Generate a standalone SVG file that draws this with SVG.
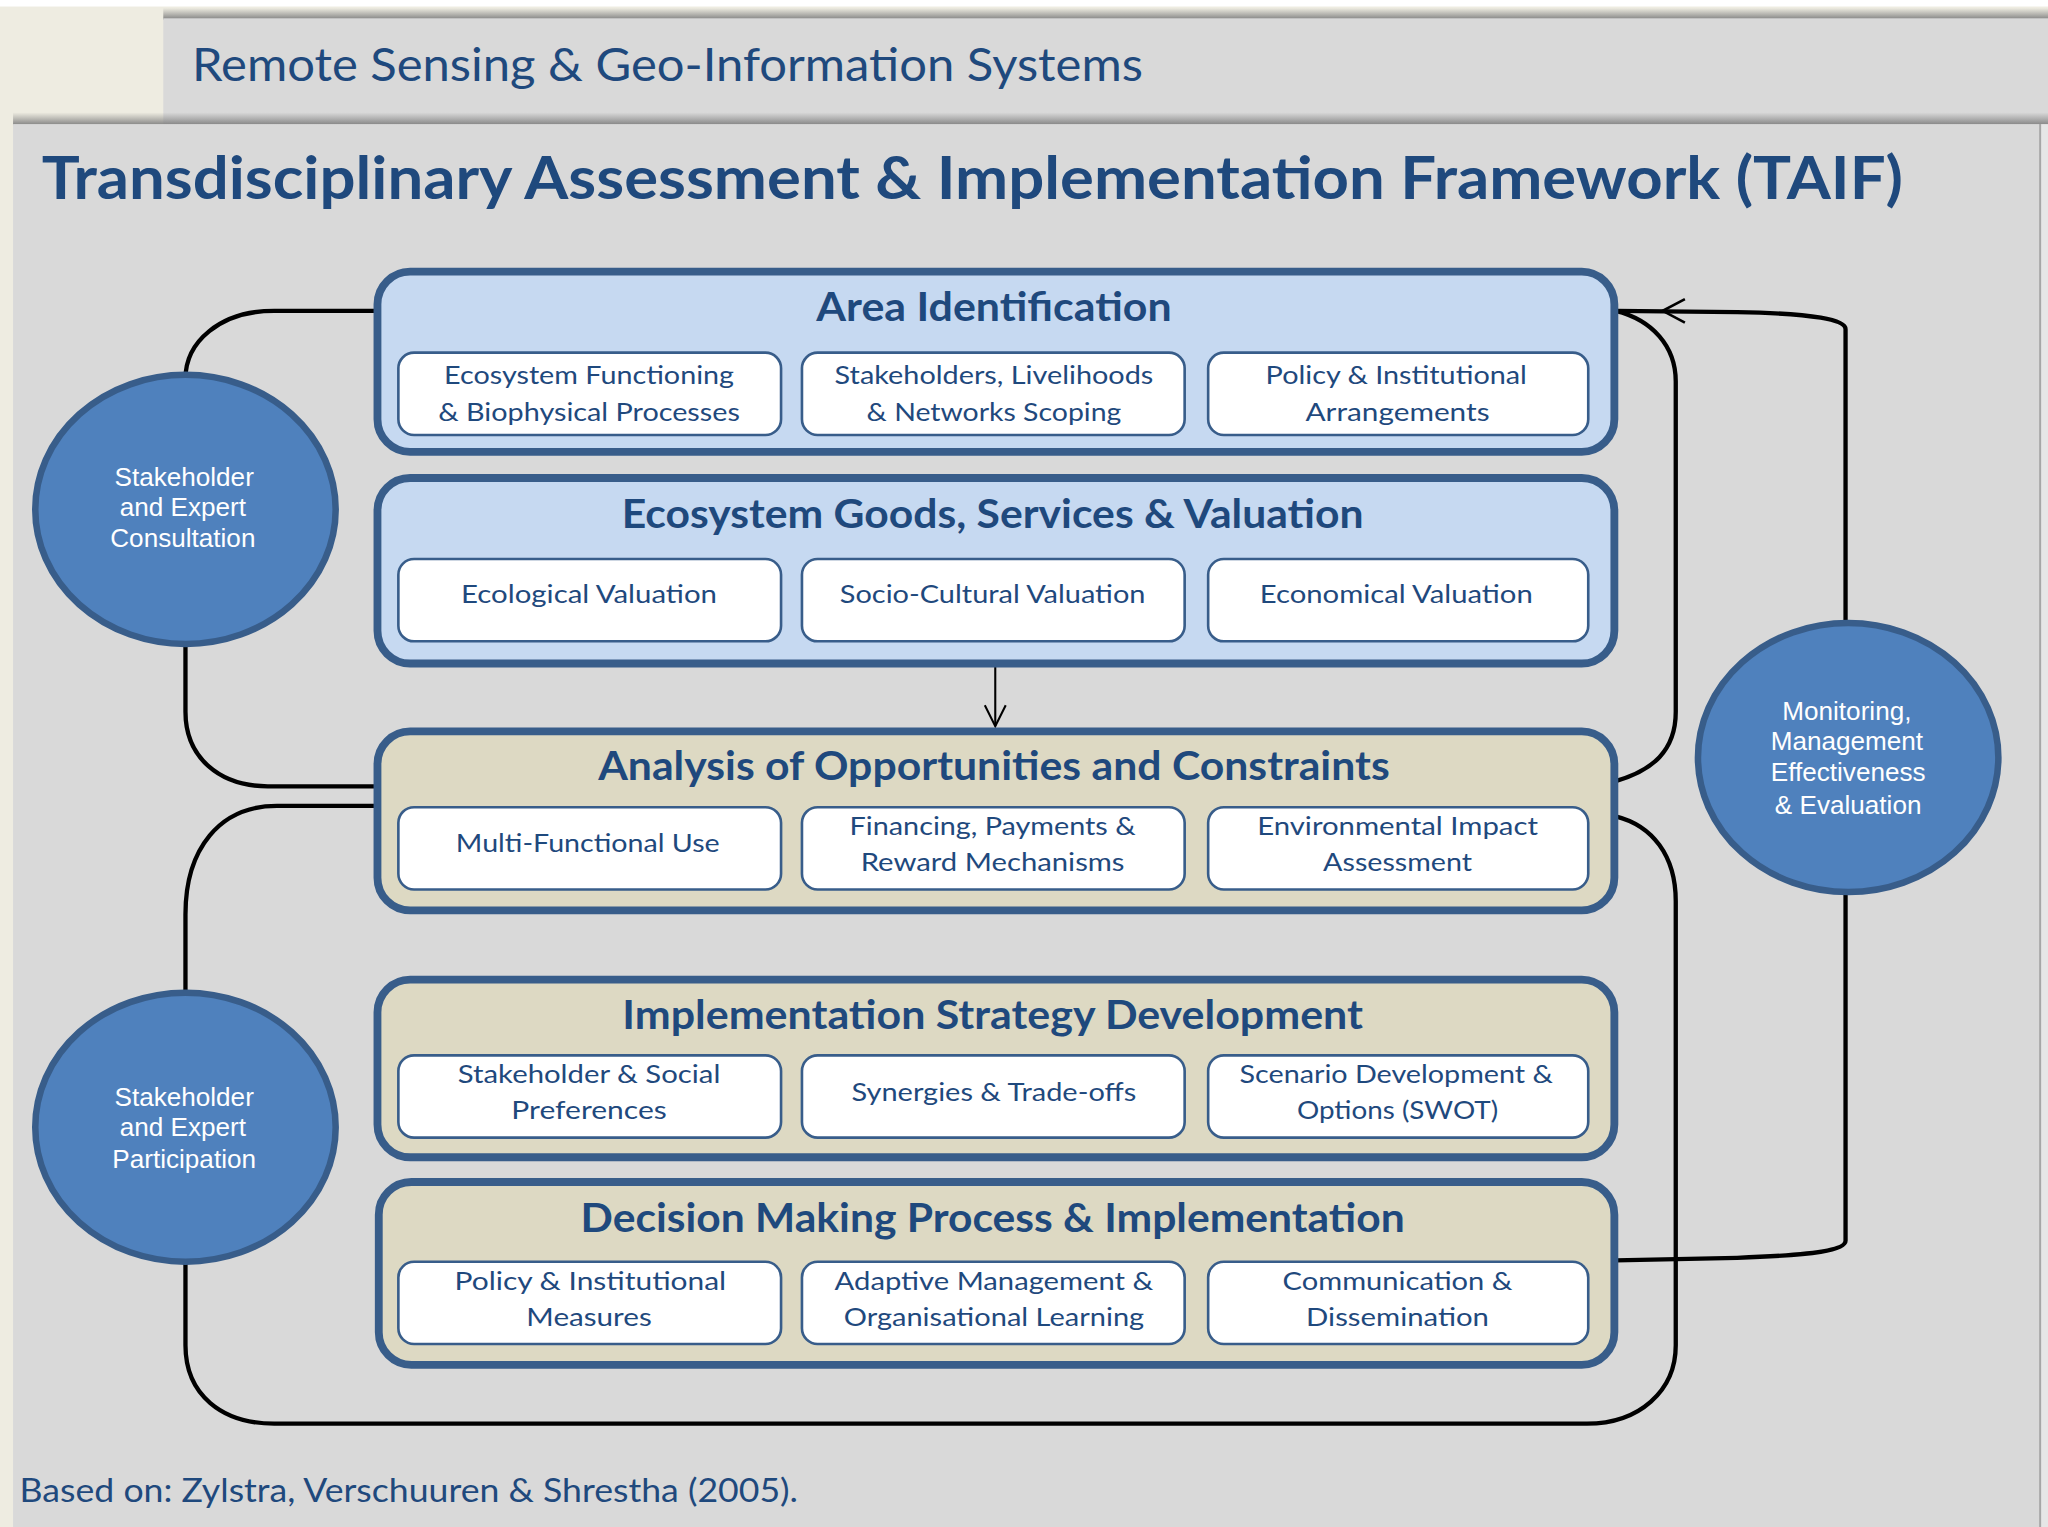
<svg xmlns="http://www.w3.org/2000/svg" width="2048" height="1527" viewBox="0 0 2048 1527">
<defs>
<linearGradient id="shTop" x1="0" y1="0" x2="0" y2="1">
<stop offset="0" stop-color="#8a8a8a" stop-opacity="0"/>
<stop offset="1" stop-color="#808080" stop-opacity="1"/>
</linearGradient>
<marker id="openArrow" viewBox="0 0 20 20" refX="18" refY="10" markerWidth="20" markerHeight="20" markerUnits="userSpaceOnUse" orient="auto">
<path d="M2,2 L18,10 L2,18" fill="none" stroke="#000" stroke-width="1.6"/>
</marker>
<style>
.panelB{fill:#C6D9F1;stroke:#385D8A;stroke-width:6}
.panelT{fill:#DDD9C3;stroke:#385D8A;stroke-width:6}
.sub{fill:#FFFFFF;stroke:#385D8A;stroke-width:2}
.ttl{font-family:Lato,"Open Sans","Liberation Sans",sans-serif;font-weight:bold;font-size:30px;fill:#1F497D;text-anchor:middle}
.st{font-family:Lato,"Open Sans","Liberation Sans",sans-serif;font-size:19.5px;fill:#1F497D;text-anchor:middle}
.circ{fill:#4F81BD;stroke:#385D8A;stroke-width:5}
.ct{font-family:"Liberation Sans",Arial,sans-serif;font-size:20px;fill:#FFFFFF;text-anchor:middle}
.conn{fill:none;stroke:#000;stroke-width:3.3}
.hdr{font-family:Lato,"Open Sans","Liberation Sans",sans-serif;fill:#1F497D}
</style>
</defs>
<g transform="scale(1.30612)">
<!-- background -->
<rect x="0" y="0" width="1568" height="1170" fill="#EEECE1"/>
<rect x="0" y="0" width="1568" height="5" fill="#FFFFFF"/>
<rect x="125" y="6" width="1443" height="9" fill="url(#shTop)"/>
<rect x="125" y="14" width="1443" height="82" fill="#D9D9D9"/>
<rect x="10" y="86" width="1558" height="10" fill="url(#shTop)"/>
<rect x="10" y="95" width="1552" height="1075" fill="#D9D9D9"/>
<rect x="1562" y="95" width="6" height="1075" fill="#E6E6E6"/>
<line x1="1562" y1="95" x2="1562" y2="1170" stroke="#A6A6A6" stroke-width="1.5"/>
<text class="hdr" x="147" y="62" font-size="35" textLength="728" lengthAdjust="spacingAndGlyphs">Remote Sensing &amp; Geo-Information Systems</text>
<text class="hdr" x="32" y="152" font-size="46" font-weight="bold" textLength="1425" lengthAdjust="spacingAndGlyphs">Transdisciplinary Assessment &amp; Implementation Framework (TAIF)</text>
<text class="hdr" x="15" y="1150" font-size="25" textLength="596" lengthAdjust="spacingAndGlyphs">Based on: Zylstra, Verschuuren  &amp; Shrestha (2005).</text>

<!-- connectors -->
<g id="connectors">
<path class="conn" d="M288,238 H210 C168,238 142,262 142,290"/>
<path class="conn" d="M142,492 V545 C142,580 168,602 205,602 H288"/>
<path class="conn" d="M1237,238 C1265,245 1283,265 1283,292 V545 C1283,575 1265,590 1237,598"/>
<path class="conn" d="M288,617 H212 C168,617 142,650 142,700 V760"/>
<path class="conn" d="M142,966 V1030 C142,1068 170,1090 210,1090 H1215 C1255,1090 1283,1065 1283,1030 V690 C1283,655 1265,632 1237,625"/>
<path class="conn" d="M1237,965 L1330,963 C1390,961 1413,957 1413,950 V683"/>
<path class="conn" d="M1413,477 V252 C1413,245 1390,240 1330,239 L1237,238"/>
<path d="M1290,229 L1273,238 L1290,247" fill="none" stroke="#000" stroke-width="2"/>
<path d="M762,510 V556" fill="none" stroke="#000" stroke-width="1.6" marker-end="url(#openArrow)"/>
</g>

<!-- Area Identification -->
<g id="area-identification">
<rect class="panelB" x="289" y="208" width="947" height="138" rx="25"/>
<text class="ttl" x="761" y="246" textLength="272" lengthAdjust="spacingAndGlyphs">Area Identification</text>
<rect class="sub" x="305" y="270" width="293" height="63" rx="12"/>
<text class="st" x="451" y="294" textLength="222" lengthAdjust="spacingAndGlyphs">Ecosystem Functioning</text>
<text class="st" x="451" y="322" textLength="231" lengthAdjust="spacingAndGlyphs">&amp; Biophysical Processes</text>
<rect class="sub" x="614" y="270" width="293" height="63" rx="12"/>
<text class="st" x="761" y="294" textLength="244" lengthAdjust="spacingAndGlyphs">Stakeholders, Livelihoods</text>
<text class="st" x="761" y="322" textLength="195" lengthAdjust="spacingAndGlyphs">&amp; Networks Scoping</text>
<rect class="sub" x="925" y="270" width="291" height="63" rx="12"/>
<text class="st" x="1069" y="294" textLength="200" lengthAdjust="spacingAndGlyphs">Policy &amp; Institutional</text>
<text class="st" x="1070" y="322" textLength="141" lengthAdjust="spacingAndGlyphs">Arrangements</text>
</g>

<!-- Ecosystem Goods -->
<g id="ecosystem-goods">
<rect class="panelB" x="289" y="366" width="947" height="142" rx="25"/>
<text class="ttl" x="760" y="404" textLength="568" lengthAdjust="spacingAndGlyphs">Ecosystem Goods, Services &amp; Valuation</text>
<rect class="sub" x="305" y="428" width="293" height="63" rx="12"/>
<text class="st" x="451" y="462" textLength="196" lengthAdjust="spacingAndGlyphs">Ecological Valuation</text>
<rect class="sub" x="614" y="428" width="293" height="63" rx="12"/>
<text class="st" x="760" y="462" textLength="234" lengthAdjust="spacingAndGlyphs">Socio-Cultural Valuation</text>
<rect class="sub" x="925" y="428" width="291" height="63" rx="12"/>
<text class="st" x="1069" y="462" textLength="209" lengthAdjust="spacingAndGlyphs">Economical Valuation</text>
</g>

<!-- Analysis -->
<g id="analysis">
<rect class="panelT" x="289" y="560" width="947" height="137" rx="25"/>
<text class="ttl" x="761" y="597" textLength="606" lengthAdjust="spacingAndGlyphs">Analysis of Opportunities and Constraints</text>
<rect class="sub" x="305" y="618" width="293" height="63" rx="12"/>
<text class="st" x="450" y="652" textLength="202" lengthAdjust="spacingAndGlyphs">Multi-Functional Use</text>
<rect class="sub" x="614" y="618" width="293" height="63" rx="12"/>
<text class="st" x="760" y="639" textLength="219" lengthAdjust="spacingAndGlyphs">Financing, Payments &amp;</text>
<text class="st" x="760" y="667" textLength="202" lengthAdjust="spacingAndGlyphs">Reward Mechanisms</text>
<rect class="sub" x="925" y="618" width="291" height="63" rx="12"/>
<text class="st" x="1070" y="639" textLength="215" lengthAdjust="spacingAndGlyphs">Environmental Impact</text>
<text class="st" x="1070" y="667" textLength="114" lengthAdjust="spacingAndGlyphs">Assessment</text>
</g>

<!-- Implementation Strategy -->
<g id="implementation-strategy">
<rect class="panelT" x="289" y="750" width="947" height="136" rx="25"/>
<text class="ttl" x="760" y="788" textLength="567" lengthAdjust="spacingAndGlyphs">Implementation Strategy Development</text>
<rect class="sub" x="305" y="808" width="293" height="63" rx="12"/>
<text class="st" x="451" y="829" textLength="201" lengthAdjust="spacingAndGlyphs">Stakeholder &amp; Social</text>
<text class="st" x="451" y="857" textLength="119" lengthAdjust="spacingAndGlyphs">Preferences</text>
<rect class="sub" x="614" y="808" width="293" height="63" rx="12"/>
<text class="st" x="761" y="843" textLength="218" lengthAdjust="spacingAndGlyphs">Synergies &amp; Trade-offs</text>
<rect class="sub" x="925" y="808" width="291" height="63" rx="12"/>
<text class="st" x="1069" y="829" textLength="240" lengthAdjust="spacingAndGlyphs">Scenario Development &amp;</text>
<text class="st" x="1070" y="857" textLength="154" lengthAdjust="spacingAndGlyphs">Options (SWOT)</text>
</g>

<!-- Decision Making -->
<g id="decision-making">
<rect class="panelT" x="290" y="905" width="946" height="140" rx="25"/>
<text class="ttl" x="760" y="943" textLength="631" lengthAdjust="spacingAndGlyphs">Decision Making Process &amp; Implementation</text>
<rect class="sub" x="305" y="966" width="293" height="63" rx="12"/>
<text class="st" x="452" y="988" textLength="208" lengthAdjust="spacingAndGlyphs">Policy  &amp; Institutional</text>
<text class="st" x="451" y="1015" textLength="96" lengthAdjust="spacingAndGlyphs">Measures</text>
<rect class="sub" x="614" y="966" width="293" height="63" rx="12"/>
<text class="st" x="761" y="988" textLength="244" lengthAdjust="spacingAndGlyphs">Adaptive Management &amp;</text>
<text class="st" x="761" y="1015" textLength="230" lengthAdjust="spacingAndGlyphs">Organisational Learning</text>
<rect class="sub" x="925" y="966" width="291" height="63" rx="12"/>
<text class="st" x="1070" y="988" textLength="176" lengthAdjust="spacingAndGlyphs">Communication &amp;</text>
<text class="st" x="1070" y="1015" textLength="140" lengthAdjust="spacingAndGlyphs">Dissemination</text>
</g>

<!-- Circles -->
<g id="consultation">
<ellipse class="circ" cx="142" cy="390" rx="115" ry="103"/>
<text class="ct" x="141" y="372">Stakeholder</text>
<text class="ct" x="140" y="395">and Expert</text>
<text class="ct" x="140" y="419">Consultation</text>
</g>
<g id="participation">
<ellipse class="circ" cx="142" cy="863" rx="115" ry="103"/>
<text class="ct" x="141" y="847">Stakeholder</text>
<text class="ct" x="140" y="870">and Expert</text>
<text class="ct" x="141" y="894">Participation</text>
</g>
<g id="monitoring">
<ellipse class="circ" cx="1415" cy="580" rx="115" ry="103"/>
<text class="ct" x="1414" y="551">Monitoring,</text>
<text class="ct" x="1414" y="574">Management</text>
<text class="ct" x="1415" y="598">Effectiveness</text>
<text class="ct" x="1415" y="623">&amp; Evaluation</text>
</g>
</g>
</svg>
